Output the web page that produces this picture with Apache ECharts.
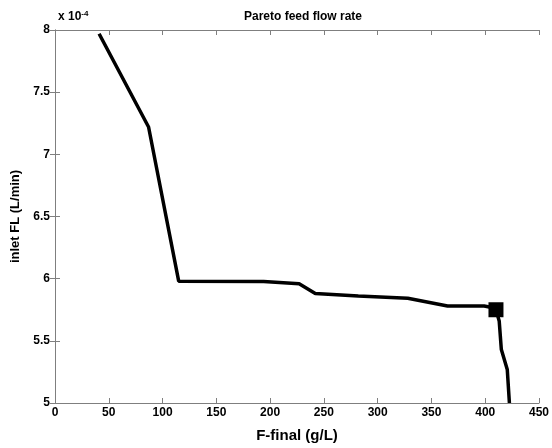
<!DOCTYPE html>
<html>
<head>
<meta charset="utf-8">
<script src="https://cdn.jsdelivr.net/npm/echarts@6/dist/echarts.min.js"></script>
<style>
  html, body { margin: 0; padding: 0; background: #fff; }
  #chart { width: 552px; height: 448px; }
</style>
</head>
<body>
<div id="chart"></div>
<script>
// pareto front, y in units of 1e-4 L/min
const fFinal = [41, 87, 115, 194, 227, 242, 282, 328, 365, 399, 405, 410, 413, 415, 420.5, 422.5];
const inletFL = [7.97, 7.22, 5.98, 5.977, 5.96, 5.88, 5.86, 5.843, 5.78, 5.78, 5.77, 5.75, 5.66, 5.43, 5.27, 5.0];
// selected point (square marker)
const picked = [[410, 5.75]];

const xTicks = [0, 450, 50];
const yTicks = [5, 8, 0.5];

const font = 'Liberation Sans, Arial, sans-serif';
const axisGray = '#7f7f7f';

const chart = echarts.init(document.getElementById('chart'));

const baseAxis = {
  axisLine: { show: true, lineStyle: { color: axisGray, width: 1 } },
  axisTick: { show: true, inside: true, length: 5, lineStyle: { color: axisGray } },
  splitLine: { show: false }
};

chart.setOption({
  animation: false,
  backgroundColor: '#fff',
  title: {
    text: 'Pareto feed flow rate',
    left: 298, top: 6, textAlign: 'center',
    textStyle: { fontFamily: font, fontSize: 12, fontWeight: 'bold', color: '#000' }
  },
  grid: { left: 55, right: 10, top: 30, bottom: 37 },
  graphic: [{
    type: 'text', left: 58, top: 10,
    style: {
      text: '{a|x 10}{b|-4}',
      rich: {
        a: { fontFamily: font, fontSize: 12, fontWeight: 'bold', fill: '#000' },
        b: { fontFamily: font, fontSize: 8, fontWeight: 'bold', fill: '#000', verticalAlign: 'top', padding: [0, 0, 6, 0] }
      }
    }
  }],
  xAxis: [
    Object.assign({}, baseAxis, {
      type: 'value', min: xTicks[0], max: xTicks[1], interval: xTicks[2],
      name: 'F-final (g/L)', nameLocation: 'middle', nameGap: 25,
      nameTextStyle: { fontFamily: font, fontSize: 15, fontWeight: 'bold', color: '#000' },
      axisLabel: { fontFamily: font, fontSize: 12, fontWeight: 'bold', color: '#000', margin: 4 }
    }),
    Object.assign({}, baseAxis, {
      type: 'value', position: 'top', min: xTicks[0], max: xTicks[1], interval: xTicks[2],
      axisLabel: { show: false }
    })
  ],
  yAxis: [
    Object.assign({}, baseAxis, {
      type: 'value', min: yTicks[0], max: yTicks[1], interval: yTicks[2],
      name: 'inlet FL (L/min)', nameLocation: 'middle', nameGap: 24,
      nameTextStyle: { fontFamily: font, fontSize: 13, fontWeight: 'bold', color: '#000' },
      axisLabel: { fontFamily: font, fontSize: 12, fontWeight: 'bold', color: '#000', margin: 5 }
    }),
    Object.assign({}, baseAxis, {
      type: 'value', position: 'right', min: yTicks[0], max: yTicks[1], interval: yTicks[2],
      axisLabel: { show: false }
    })
  ],
  series: [
    {
      type: 'line',
      data: fFinal.map((x, i) => [x, inletFL[i]]),
      showSymbol: false,
      lineStyle: { color: '#000', width: 3.5 },
      clip: true
    },
    {
      type: 'scatter',
      data: picked,
      symbol: 'rect',
      symbolSize: 15,
      itemStyle: { color: '#000', opacity: 1 },
      z: 5
    }
  ]
});
</script>
</body>
</html>
